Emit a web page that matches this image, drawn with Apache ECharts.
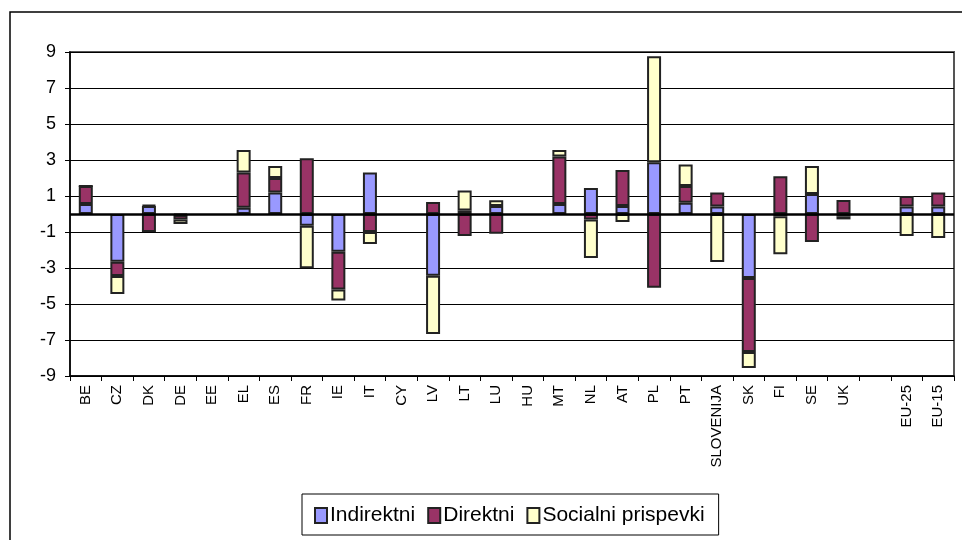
<!DOCTYPE html>
<html>
<head>
<meta charset="utf-8">
<style>
  html, body { margin: 0; padding: 0; background: #fff; }
  #chart { width: 962px; height: 540px; }
</style>
<script src="https://cdn.jsdelivr.net/npm/echarts@6/dist/echarts.min.js"></script>
</head>
<body>
<div id="chart"></div>
<script>
// Countries (blank slot separates the EU aggregates)
const categories = ['BE','CZ','DK','DE','EE','EL','ES','FR','IE','IT','CY','LV','LT','LU','HU','MT','NL','AT','PL','PT','SLOVENIJA','SK','FI','SE','UK','','EU-25','EU-15'];

// Change by component, percentage points
const indirektni = [0.55, -2.65, 0.45, -0.05, null, 0.35, 1.2, -0.65, -2.1, 2.3, null, -3.43, 0.2, 0.45, null, 0.55, 1.44, 0.45, 2.87, 0.62, 0.42, -3.56, -0.12, 1.11, -0.15, null, 0.42, 0.42];
const direktni   = [1.0, -0.8, -1.0, -0.25, null, 1.95, 0.8, 3.1, -2.1, -1.0, null, 0.67, -1.22, -1.1, null, 2.65, -0.3, 2.0, -4.1, 0.93, 0.78, -4.1, 2.1, -1.56, 0.78, null, 0.58, 0.78];
const socialni   = [0, -1.0, 0.05, -0.25, null, 1.25, 0.67, -2.37, -0.6, -0.67, null, -3.24, 1.1, 0.32, null, 0.35, -2.14, -0.45, 5.9, 1.2, -2.67, -0.9, -2.12, 1.56, -0.15, null, -1.22, -1.33];

const seriesNames = ['Indirektni', 'Direktni', 'Socialni prispevki'];
const seriesColors = ['#9999FF', '#993366', '#FFFFCC'];

const yMin = -9, yMax = 9, yStep = 2;

const chart = echarts.init(document.getElementById('chart'), null, { renderer: 'canvas' });

function barSeries(name, data, color, withZeroLine) {
  const s = {
    name: name,
    type: 'bar',
    stack: 'total',
    data: data,
    barWidth: 14,
    itemStyle: { color: color, borderColor: '#222', borderWidth: 2 },
    emphasis: { disabled: true },
    animation: false
  };
  if (withZeroLine) {
    s.markLine = {
      silent: true,
      symbol: 'none',
      label: { show: false },
      lineStyle: { color: '#000', width: 2.5, type: 'solid' },
      data: [{ yAxis: 0 }],
      animation: false
    };
  }
  return s;
}

chart.setOption({
  backgroundColor: '#fff',
  animation: false,
  textStyle: { fontFamily: 'Liberation Sans, Arial, sans-serif' },
  graphic: [{
    type: 'rect',
    shape: { x: 10, y: 12, width: 1000, height: 600 },
    style: { fill: 'none', stroke: '#000', lineWidth: 1.5 },
    silent: true,
    z: -10
  }],
  grid: {
    left: 70, top: 52, right: 8, bottom: 164,
    show: true,
    borderColor: '#555',
    borderWidth: 2,
    backgroundColor: 'transparent'
  },
  legend: {
    left: 302, top: 494,
    width: 440,
    padding: [11, 14, 9, 12],
    borderColor: '#000', borderWidth: 1,
    itemWidth: 12, itemHeight: 15, itemGap: 12,
    icon: 'rect',
    textStyle: { fontFamily: 'Liberation Sans, Arial, sans-serif', fontSize: 21, color: '#000', padding: [0, 0, 0, -2] },
    data: seriesNames
  },
  xAxis: {
    type: 'category',
    data: categories,
    boundaryGap: true,
    axisLine: { onZero: false, lineStyle: { color: '#000', width: 1.5 } },
    axisTick: { show: true, length: 5, lineStyle: { color: '#000' } },
    axisLabel: {
      interval: 0, rotate: 90, margin: 9,
      fontSize: 15, color: '#000',
      fontFamily: 'Liberation Sans, Arial, sans-serif'
    },
    splitLine: { show: false }
  },
  yAxis: {
    type: 'value',
    min: yMin, max: yMax, interval: yStep,
    axisLine: { show: true, lineStyle: { color: '#000', width: 1.5 } },
    axisTick: { show: true, length: 5, lineStyle: { color: '#000' } },
    axisLabel: { fontSize: 18, color: '#000', margin: 14 },
    splitLine: { show: true, lineStyle: { color: '#000', width: 1 } }
  },
  series: [
    barSeries(seriesNames[0], indirektni, seriesColors[0], true),
    barSeries(seriesNames[1], direktni, seriesColors[1], false),
    barSeries(seriesNames[2], socialni, seriesColors[2], false)
  ]
});
</script>
</body>
</html>
